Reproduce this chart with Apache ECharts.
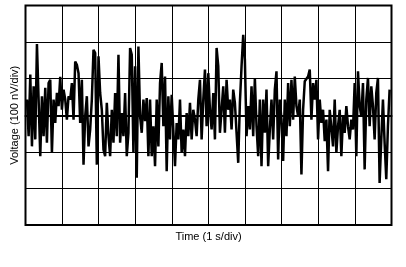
<!DOCTYPE html>
<html>
<head>
<meta charset="utf-8">
<script src="https://cdn.jsdelivr.net/npm/echarts@6/dist/echarts.min.js"></script>
<style>
html,body{margin:0;padding:0;background:#fff;}
#c{width:406px;height:267px;}
</style>
</head>
<body>
<div id="c"></div>
<script>
// Time axis: 10 divisions of 1 s; voltage axis: 6 divisions of 100 nV
var xDivs = [0, 10];
var yDivs = [-300, 300];
var xTitle = 'Time (1 s/div)';
var yTitle = 'Voltage (100 nV/div)';
// Sample timing (s) of the trace
var tStart = 0.04;
var tStep = 0.04545;
// Noise trace (nV)
var noise = [43,-57,111,-85,79,-66,195,43,-112,52,-57,75,-75,88,97,-103,43,-21,61,25,
105,15,70,43,-12,52,43,88,-12,147,138,115,-21,97,-135,-3,52,-85,-39,43,
179,170,-135,161,61,15,-94,-112,34,-57,-112,15,-75,61,-57,165,-75,6,-57,61,
-112,-48,184,165,-103,134,-171,188,-3,-48,43,-16,47,-112,43,-112,-30,-139,43,-85,
88,143,-30,106,-153,52,-66,56,52,-139,-21,-66,43,-103,-39,-112,6,-57,34,-66,
15,-12,-57,43,97,-66,43,125,-30,115,15,-39,61,-66,184,134,-48,15,79,-48,
97,15,43,-39,70,34,-48,-130,34,134,220,152,-57,25,-39,79,-57,102,-30,-112,
43,-139,43,-48,70,-139,-39,43,-66,70,120,-121,43,-12,-125,43,-57,88,-30,97,
-12,106,25,-3,43,-162,15,93,88,106,125,-12,88,43,97,-66,43,-21,15,-71,
-12,-153,15,15,-85,43,-103,-30,15,-112,-3,-48,25,-30,-66,-12,-39,88,-112,120,
25,-3,88,-148,43,102,-30,79,25,-66,61,102,-185,-66,43,-75,-175,-30,70];

var pts = noise.map(function(v, i){ return [tStart + i * tStep, v]; });

var chart = echarts.init(document.getElementById('c'), null, {renderer:'canvas'});
chart.setOption({
  animation: false,
  backgroundColor: '#fff',
  textStyle: {fontFamily: 'Liberation Sans, Arial, sans-serif'},
  grid: {left: 25.5, right: 14.5, top: 5.5, bottom: 42, show: true,
         borderColor: '#000', borderWidth: 2, backgroundColor: 'transparent'},
  xAxis: {
    type: 'value', min: xDivs[0], max: xDivs[1], interval: 1,
    name: xTitle, nameLocation: 'middle', nameGap: 6,
    nameTextStyle: {color: '#000', fontSize: 11, fontFamily: 'Liberation Sans, Arial, sans-serif', verticalAlign: 'top'},
    axisLine: {show: true, onZero: true, lineStyle: {color: '#000', width: 2}},
    axisTick: {show: false}, axisLabel: {show: false},
    splitLine: {show: true, lineStyle: {color: '#000', width: 1}}
  },
  yAxis: {
    type: 'value', min: yDivs[0], max: yDivs[1], interval: 100,
    name: yTitle, nameLocation: 'middle', nameGap: 5,
    nameTextStyle: {color: '#000', fontSize: 11, fontFamily: 'Liberation Sans, Arial, sans-serif'},
    axisLine: {show: false}, axisTick: {show: false}, axisLabel: {show: false},
    splitLine: {show: true, lineStyle: {color: '#000', width: 1}}
  },
  series: [{
    type: 'line', data: pts, showSymbol: false, symbol: 'none',
    lineStyle: {color: '#000', width: 2.5}, z: 5
  }]
});
</script>
</body>
</html>
